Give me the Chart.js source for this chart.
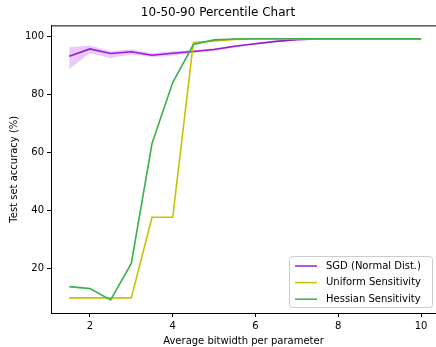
<!DOCTYPE html>
<html>
<head>
<meta charset="utf-8">
<script src="https://cdn.jsdelivr.net/npm/chart.js@4"></script>
<style>
  html, body { margin: 0; padding: 0; background: #fff; }
  #wrap { width: 436px; height: 347px; }
</style>
</head>
<body>
<div id="wrap"><canvas id="chart" width="436" height="347"></canvas></div>
<script>
const bits = [1.5, 2, 2.5, 3, 3.5, 4, 4.5, 5, 5.5, 6, 6.5, 7, 7.5, 8, 8.5, 9, 9.5, 10]
const sgdMedian = [93.1, 95.6, 94.0, 94.6, 93.4, 94.1, 94.7, 95.4, 96.5, 97.4, 98.2, 98.8, 99.0, 99.0, 99.0, 99.0, 99.0, 99.0]
const sgdLow = [88.7, 94.2, 92.5, 93.7, 92.8, 93.2, 94.2, 95.0, 96.1, 97.0, 97.9, 98.6, 98.8, 98.8, 98.8, 98.8, 98.8, 98.8]
const sgdHigh = [96.2, 96.8, 94.8, 95.5, 94.1, 94.8, 95.2, 95.8, 96.9, 97.8, 98.5, 99.0, 99.2, 99.2, 99.2, 99.2, 99.2, 99.2]
const uniform = [9.8, 9.8, 9.8, 9.8, 37.6, 37.6, 97.8, 98.3, 98.9, 99.0, 99.0, 99.0, 99.0, 99.0, 99.0, 99.0, 99.0, 99.0]
const hessian = [13.7, 13.0, 9.1, 21.7, 63.0, 84.0, 97.1, 98.7, 99.0, 99.1, 99.1, 99.1, 99.1, 99.1, 99.1, 99.1, 99.1, 99.1]
const xTicks = [2, 4, 6, 8, 10]
const yTicks = [20, 40, 60, 80, 100]
const seriesNames = ["SGD (Normal Dist.)", "Uniform Sensitivity", "Hessian Sensitivity"]

const FONT = "'DejaVu Sans', sans-serif"
const purple = "#9b1ccf"
const yellow = "#c4c400"
const green = "#3cb04a"

const toPoints = ys => bits.map((x, i) => ({ x: x, y: ys[i] }))

// legend drawn inside the plot, lower right, like matplotlib
const boxLegend = {
  id: "boxLegend",
  afterDraw(chart) {
    const ctx = chart.ctx
    const items = [
      { label: seriesNames[0], color: purple },
      { label: seriesNames[1], color: yellow },
      { label: seriesNames[2], color: green }
    ]
    const w = 143, h = 51
    const x0 = 289, y0 = 256
    ctx.save()
    ctx.fillStyle = "rgba(255,255,255,0.8)"
    ctx.strokeStyle = "#cccccc"
    ctx.lineWidth = 1
    ctx.beginPath()
    ctx.roundRect(x0 + 0.5, y0 + 0.5, w, h, 3)
    ctx.fill()
    ctx.stroke()
    ctx.font = "10px " + FONT
    ctx.textBaseline = "middle"
    items.forEach((it, i) => {
      const y = y0 + 10 + i * 16.6
      ctx.strokeStyle = it.color
      ctx.lineWidth = 1.5
      ctx.beginPath()
      ctx.moveTo(x0 + 6, y)
      ctx.lineTo(x0 + 28, y)
      ctx.stroke()
      ctx.fillStyle = "#000"
      ctx.fillText(it.label, x0 + 37, y)
    })
    ctx.restore()
  }
}

const ctx = document.getElementById("chart").getContext("2d")
new Chart(ctx, {
  type: "line",
  data: {
    datasets: [
      {
        label: "90th",
        data: toPoints(sgdHigh),
        borderWidth: 0,
        pointRadius: 0,
        fill: false,
        order: 4
      },
      {
        label: "10th",
        data: toPoints(sgdLow),
        borderWidth: 0,
        pointRadius: 0,
        backgroundColor: "rgba(196, 110, 250, 0.38)",
        fill: "-1",
        order: 4
      },
      {
        label: seriesNames[0],
        data: toPoints(sgdMedian),
        borderColor: purple,
        borderWidth: 1.6,
        pointRadius: 0,
        fill: false,
        order: 3
      },
      {
        label: seriesNames[1],
        data: toPoints(uniform),
        borderColor: yellow,
        borderWidth: 1.6,
        pointRadius: 0,
        fill: false,
        order: 2
      },
      {
        label: seriesNames[2],
        data: toPoints(hessian),
        borderColor: green,
        borderWidth: 1.6,
        pointRadius: 0,
        fill: false,
        order: 1
      }
    ]
  },
  options: {
    responsive: false,
    animation: false,
    layout: { padding: { left: 0, right: 0, top: 0, bottom: 0 } },
    elements: { line: { tension: 0 } },
    plugins: {
      legend: { display: false },
      tooltip: { enabled: false },
      title: {
        display: true,
        text: "10-50-90 Percentile Chart",
        color: "#000",
        font: { family: FONT, size: 12, weight: "normal" },
        padding: { top: 6, bottom: 5 }
      }
    },
    scales: {
      x: {
        type: "linear",
        min: 1.06,
        max: 10.36,
        afterBuildTicks: axis => { axis.ticks = xTicks.map(v => ({ value: v })) },
        afterFit: axis => { axis.height = 34 },
        border: { display: true, color: "#000", width: 1 },
        grid: { drawOnChartArea: false, drawTicks: true, tickLength: 4, color: "#000" },
        ticks: {
          color: "#000",
          padding: 3,
          maxRotation: 0,
          font: { family: FONT, size: 10 }
        },
        title: {
          display: true,
          text: "Average bitwidth per parameter",
          color: "#000",
          font: { family: FONT, size: 10 },
          padding: { top: 0, bottom: 0 }
        }
      },
      y: {
        type: "linear",
        min: 4.6,
        max: 103.7,
        afterBuildTicks: axis => { axis.ticks = yTicks.map(v => ({ value: v })) },
        afterFit: axis => { axis.width = 51 },
        border: { display: true, color: "#000", width: 1 },
        grid: { drawOnChartArea: false, drawTicks: true, tickLength: 4, color: "#000" },
        ticks: {
          color: "#000",
          padding: 3,
          font: { family: FONT, size: 10 }
        },
        title: {
          display: true,
          text: "Test set accuracy (%)",
          color: "#000",
          font: { family: FONT, size: 10 },
          padding: { top: 8, bottom: 0 }
        }
      }
    }
  },
  plugins: [
    boxLegend,
    {
      id: "topSpine",
      afterDraw(chart) {
        const c = chart.ctx
        const a = chart.chartArea
        c.save()
        c.strokeStyle = "#000"
        c.lineWidth = 1
        c.beginPath()
        c.moveTo(a.left, a.top + 0.5)
        c.lineTo(a.right, a.top + 0.5)
        c.stroke()
        c.restore()
      }
    }
  ]
})
</script>
</body>
</html>
